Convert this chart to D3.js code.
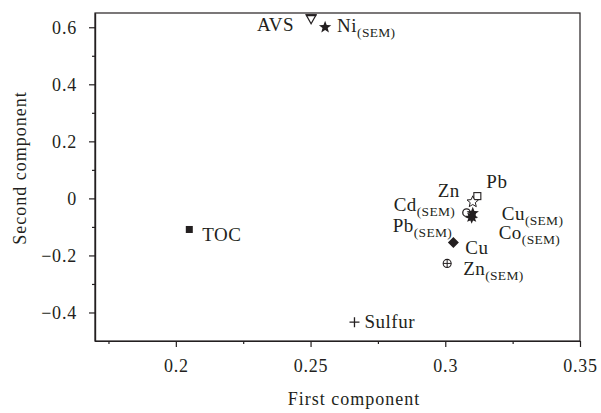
<!DOCTYPE html>
<html>
<head>
<meta charset="utf-8">
<script src="https://cdn.jsdelivr.net/npm/d3@7"></script>
<style>
  html, body { margin: 0; padding: 0; background: #fff; }
  svg { display: block; }
  text { font-family: "Liberation Serif", "DejaVu Serif", serif; fill: #231f20; }
</style>
</head>
<body>
<svg id="chart" width="601" height="413"></svg>
<script>
// ---- data ----
const names   = ["AVS", "Ni", "TOC", "Sulfur", "Pb", "Zn", "Cd", "Pb", "Cu", "Co", "Cu", "Zn"];
const subs    = ["", "(SEM)", "", "", "", "", "(SEM)", "(SEM)", "(SEM)", "(SEM)", "", "(SEM)"];
const xValues = [0.2502, 0.2554, 0.2050, 0.2663, 0.3119, 0.3102, 0.3079, 0.3092, 0.3102, 0.3098, 0.3030, 0.3007];
const yValues = [0.628, 0.600, -0.109, -0.434, 0.008, -0.012, -0.050, -0.057, -0.052, -0.066, -0.155, -0.228];
const markers = ["triDownOpen", "starFilled", "squareFilled", "plus", "squareOpen", "starOpen",
                 "circleOpen", "circleFilled", "starFilled", "sunburst", "diamondFilled", "circlePlus"];
const xTicks = [0.2, 0.25, 0.3, 0.35];
const xMinorTicks = [0.175, 0.225, 0.275, 0.325];
const yTicks = [0.6, 0.4, 0.2, 0, -0.2, -0.4];
const yMinorTicks = [0.5, 0.3, 0.1, -0.1, -0.3];
const xDomain = [0.17, 0.35];
const yDomain = [-0.5, 0.65];
const xTitle = "First component";
const yTitle = "Second component";

// label placement (pixel offsets from marker, anchor)
const labelLayout = [
  {dx: -17, dy: 12, anchor: "end"},
  {dx: 12, dy: 5, anchor: "start"},
  {dx: 13, dy: 11.5, anchor: "start"},
  {dx: 10, dy: 6, anchor: "start"},
  {dx: 9, dy: -8, anchor: "start"},
  {dx: -13, dy: -5, anchor: "end"},
  {dx: -11.5, dy: -1.5, anchor: "end"},
  {dx: -18, dy: 17.5, anchor: "end"},
  {dx: 29, dy: 7, anchor: "start"},
  {dx: 27, dy: 22, anchor: "start"},
  {dx: 12, dy: 11, anchor: "start"},
  {dx: 16, dy: 12, anchor: "start"}
];

// ---- layout ----
const margin = {left: 95, right: 21, top: 13, bottom: 72};
const W = 601, H = 413;
const svg = d3.select("#chart");
const x = d3.scaleLinear().domain(xDomain).range([margin.left, W - margin.right]);
const y = d3.scaleLinear().domain(yDomain).range([H - margin.bottom, margin.top]);
const ink = "#231f20";
const fmt = d => d === 0 ? "0" : (d < 0 ? "\u2212" + d3.format("")(Math.abs(d)) : d3.format("")(d));
const FONT = '"Liberation Serif", serif';

// frame (top & right)
svg.append("rect")
  .attr("x", x(xDomain[0])).attr("y", y(yDomain[1]))
  .attr("width", x(xDomain[1]) - x(xDomain[0]))
  .attr("height", y(yDomain[0]) - y(yDomain[1]))
  .attr("fill", "none").attr("stroke", ink).attr("stroke-width", 1.2);

// axes
const xAxis = svg.append("g").attr("transform", `translate(0,${y(yDomain[0])})`)
  .call(d3.axisBottom(x).tickValues(xTicks).tickFormat(fmt).tickSize(6).tickPadding(12).tickSizeOuter(0));
const xMinor = svg.append("g").attr("transform", `translate(0,${y(yDomain[0])})`)
  .call(d3.axisBottom(x).tickValues(xMinorTicks).tickFormat("").tickSize(3).tickSizeOuter(0));
const yAxis = svg.append("g").attr("transform", `translate(${x(xDomain[0])},0)`)
  .call(d3.axisLeft(y).tickValues(yTicks).tickFormat(fmt).tickSize(6).tickPadding(12).tickSizeOuter(0));
const yMinor = svg.append("g").attr("transform", `translate(${x(xDomain[0])},0)`)
  .call(d3.axisLeft(y).tickValues(yMinorTicks).tickFormat("").tickSize(3).tickSizeOuter(0));
[xAxis, xMinor, yAxis, yMinor].forEach(g => {
  g.attr("font-family", FONT).attr("font-size", 18);
  g.select(".domain").attr("stroke", ink).attr("stroke-width", 1.2);
  g.selectAll(".tick line").attr("stroke", ink).attr("stroke-width", 1.2);
  g.selectAll(".tick text").attr("fill", ink).style("font-family", FONT).style("font-size", "18px")
    .style("letter-spacing", "0.8px");
});

// axis titles
svg.append("text").attr("x", 354).attr("y", 405).attr("text-anchor", "middle")
  .style("font-size", "18px").style("letter-spacing", "1px").text(xTitle);
svg.append("text").attr("transform", `translate(26,168) rotate(-90)`).attr("text-anchor", "middle")
  .style("font-size", "18px").style("letter-spacing", "1px").text(yTitle);

// marker paths
function starPath(r, n, inner) {
  const pts = [];
  for (let i = 0; i < 2 * n; i++) {
    const rr = i % 2 === 0 ? r : r * inner;
    const a = -Math.PI / 2 + i * Math.PI / n;
    pts.push([rr * Math.cos(a), rr * Math.sin(a)]);
  }
  return "M" + pts.map(p => p.join(",")).join("L") + "Z";
}
const data = names.map((n, i) => ({name: n, sub: subs[i], x: xValues[i], y: yValues[i], m: markers[i], lab: labelLayout[i]}));
// draw order: background first
const order = [0,1,2,3,4,5,7,6,9,8,10,11];
const gm = svg.append("g");
order.forEach(i => {
  const d = data[i];
  const g = gm.append("g").attr("transform", `translate(${x(d.x)},${y(d.y)})`);
  switch (d.m) {
    case "triDownOpen":
      g.append("path").attr("d", "M-5,-4.5L5,-4.5L0,4.5Z").attr("fill", "#fff").attr("stroke", ink).attr("stroke-width", 1.2);
      g.append("path").attr("d", "M-5.5,-5L5.5,-5L5,-3L-5,-3Z").attr("fill", ink);
      break;
    case "starFilled":
      g.append("path").attr("d", starPath(6.5, 5, 0.42)).attr("fill", ink);
      break;
    case "starOpen":
      g.append("path").attr("d", starPath(6, 5, 0.45)).attr("fill", "#fff").attr("stroke", ink).attr("stroke-width", 1);
      break;
    case "squareFilled":
      g.append("rect").attr("x", -3.5).attr("y", -3.5).attr("width", 7).attr("height", 7).attr("fill", ink);
      break;
    case "squareOpen":
      g.append("rect").attr("x", -3.5).attr("y", -3.5).attr("width", 7).attr("height", 7).attr("fill", "#fff").attr("stroke", ink).attr("stroke-width", 1.1);
      break;
    case "plus":
      g.append("path").attr("d", "M-5,0H5M0,-5V5").attr("stroke", ink).attr("stroke-width", 1.3);
      break;
    case "circleOpen":
      g.append("circle").attr("r", 3.8).attr("fill", "#fff").attr("stroke", ink).attr("stroke-width", 1.3);
      break;
    case "circleFilled":
      g.append("circle").attr("r", 3.5).attr("fill", ink);
      break;
    case "sunburst":
      g.append("path").attr("d", starPath(6.5, 8, 0.55)).attr("fill", ink);
      break;
    case "diamondFilled":
      g.append("path").attr("d", "M0,-5.5L5.5,0L0,5.5L-5.5,0Z").attr("fill", ink);
      break;
    case "circlePlus":
      g.append("circle").attr("r", 4).attr("fill", "#fff").attr("stroke", ink).attr("stroke-width", 1.1);
      g.append("path").attr("d", "M-4,0H4M0,-4V4").attr("stroke", ink).attr("stroke-width", 1);
      break;
  }
});

// labels
data.forEach(d => {
  const t = svg.append("text")
    .attr("x", x(d.x) + d.lab.dx).attr("y", y(d.y) + d.lab.dy)
    .attr("text-anchor", d.lab.anchor).style("font-size", "19px").style("letter-spacing", "0.5px");
  t.append("tspan").text(d.name);
  if (d.sub) t.append("tspan").attr("dy", 4.5).style("font-size", "13.5px").style("letter-spacing", "0.3px").text(d.sub);
});
</script>
</body>
</html>
